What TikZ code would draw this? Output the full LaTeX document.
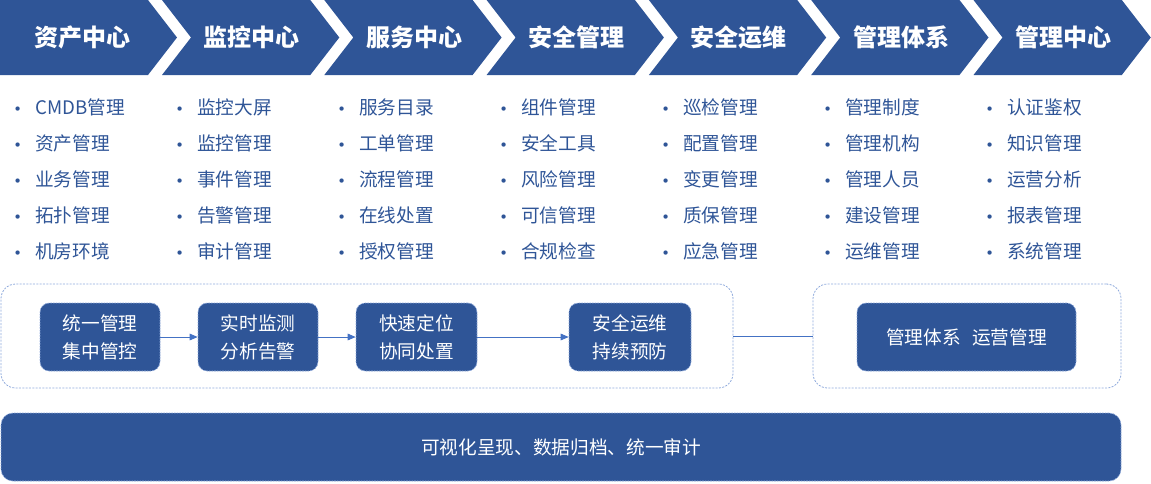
\documentclass[tikz,border=0pt]{standalone}
\usepackage{fontspec}
\setmainfont{Noto Sans CJK SC}
\newfontfamily\bulletfont{DejaVu Sans}
\usetikzlibrary{arrows.meta,positioning}
\usepackage{xcolor}
\definecolor{headblue}{RGB}{47,85,151}
\definecolor{dashblue}{RGB}{143,170,220}
\definecolor{lineblue}{RGB}{68,114,196}

\begin{document}
\begin{tikzpicture}[x=0.75pt,y=-0.75pt,
  headtext/.style={text=white,font=\fontsize{18}{20}\selectfont\bfseries},
  listitem/.style={anchor=west,inner sep=0pt,text=headblue,font=\fontsize{14}{16}\selectfont},
  panel/.style={draw=dashblue,dash pattern=on 1.5pt off 1pt,line width=0.6pt,rounded corners=11pt,minimum height=78pt},
  stagebox/.style={fill=headblue,draw=dashblue,dash pattern=on 1.2pt off 0.8pt,line width=0.5pt,rounded corners=7pt,
    text=white,align=center,font=\fontsize{14}{21}\selectfont,minimum height=51pt},
  flow/.style={draw=lineblue,line width=0.6pt,-{Triangle[length=6pt,width=5pt]}}]
\useasboundingbox (0,0) rectangle (1151,483);
% header chevrons
\fill[headblue] (0,0) -- (148,0) -- (177,37.5) -- (148,75) -- (0,75) -- cycle;
\node[headtext] (head0) at (82,37.5) {资产中心};
\foreach \lbl [count=\i] in {监控中心,服务中心,安全管理,安全运维,管理体系,管理中心} {
  \pgfmathsetmacro{\R}{148+162.3*\i}
  \pgfmathsetmacro{\L}{\R-148.3}
  \fill[headblue] (\L,0) -- (\R,0) -- (\R+29,37.5) -- (\R,75) -- (\L,75) -- (\L+29,37.5) -- cycle;
  \node[headtext] (head\i) at (\R-58.5,37.5) {\lbl};
}
% lists
\foreach \colno/\entries in {0/{CMDB管理,资产管理,业务管理,拓扑管理,机房环境},
    1/{监控大屏,监控管理,事件管理,告警管理,审计管理},
    2/{服务目录,工单管理,流程管理,在线处置,授权管理},
    3/{组件管理,安全工具,风险管理,可信管理,合规检查},
    4/{巡检管理,配置管理,变更管理,质保管理,应急管理},
    5/{管理制度,管理机构,管理人员,建设管理,运维管理},
    6/{认证鉴权,知识管理,运营分析,报表管理,系统管理}} {
  \foreach \entry [count=\r from 0] in \entries {
    \node[listitem] (item-\colno-\r) at (13+162*\colno,107+36*\r) {\makebox[16.5pt][l]{\bulletfont\fontsize{11}{12}\selectfont •}\entry};
  }
}
% middle row
\node[panel,minimum width=549pt] (panelL) at (367,336) {};
\node[panel,minimum width=231pt] (panelR) at (967,336) {};
\node[stagebox,minimum width=90pt] (unify) at (100,337) {统一管理\\集中管控};
\node[stagebox,minimum width=90pt] (monitor) at (258,337) {实时监测\\分析告警};
\node[stagebox,minimum width=90.75pt] (locate) at (416.5,337) {快速定位\\协同处置};
\node[stagebox,minimum width=91.5pt] (secops) at (630,337) {安全运维\\持续预防};
\node[stagebox,minimum width=164.25pt] (system) at (966.5,337) {管理体系\hspace{0.6em}运营管理};
\draw[flow] (unify) -- (monitor);
\draw[flow] (monitor) -- (locate);
\draw[flow] (locate) -- (secops);
\draw[lineblue,line width=0.7pt] (panelL.east) -- (panelR.west);
% bottom bar
\node[stagebox,minimum width=840pt,rounded corners=9pt] (bar) at (561,447) {可视化呈现、数据归档、统一审计};
\end{tikzpicture}
\end{document}
